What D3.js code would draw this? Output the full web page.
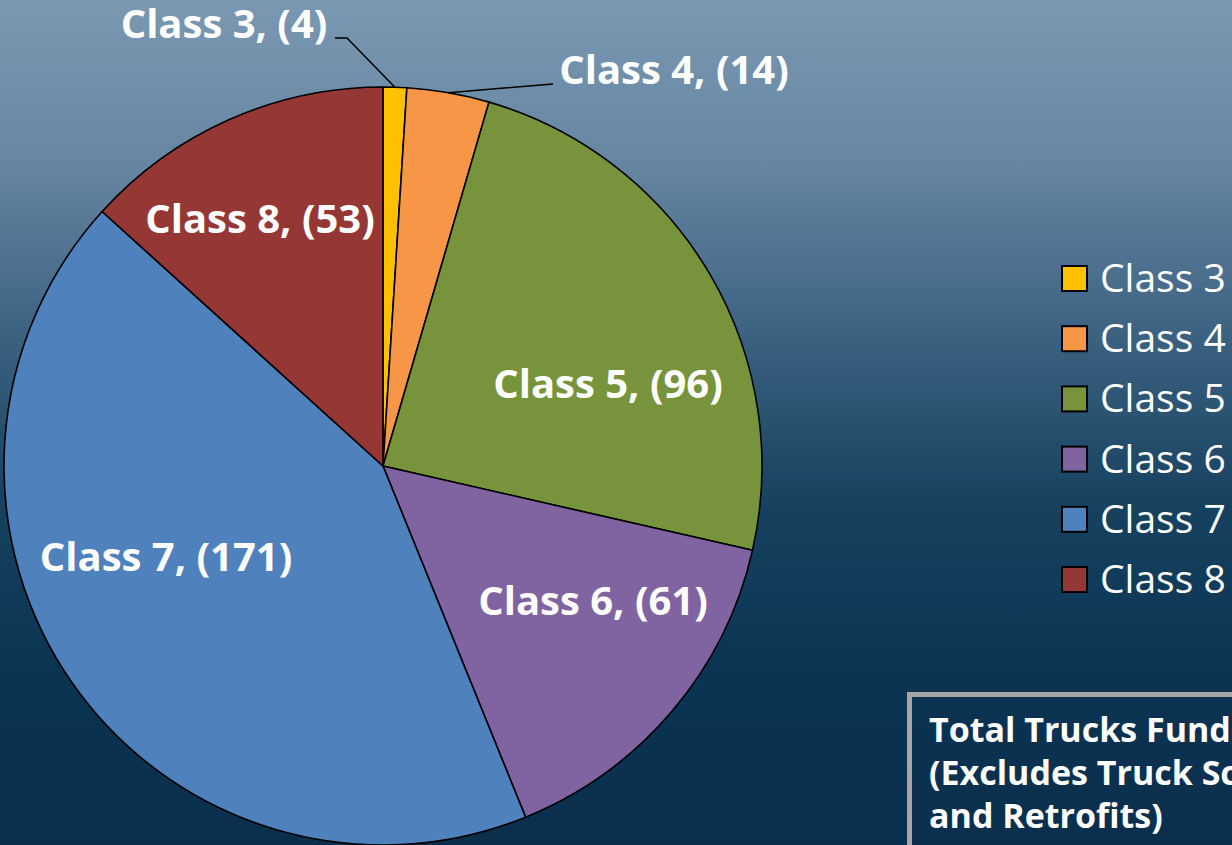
<!DOCTYPE html>
<html>
<head>
<meta charset="utf-8">
<script src="https://cdn.jsdelivr.net/npm/d3@7"></script>
<style>
  html, body { margin: 0; padding: 0; overflow: hidden; background: #0b2f4e; }
  svg { display: block; }
</style>
</head>
<body>
<svg id="chart" width="1232" height="845"></svg>
<script>
// ---- data ----
const categories = ["Class 3", "Class 4", "Class 5", "Class 6", "Class 7", "Class 8"];
const values = [4, 14, 96, 61, 171, 53];
const colors = ["#FFC000", "#F79646", "#77933C", "#8064A2", "#4F81BD", "#953735"];
const noteLines = ["Total Trucks Funded", "(Excludes Truck Scrap", "and Retrofits)"];

// ---- layout ----
const W = 1232, H = 845;
const cx = 383, cy = 466, R = 379;
// label anchors (text center x, baseline y)
const labelPos = [[224, 38], [674, 84], [608, 398], [593, 615], [166, 571], [260, 233]];

const svg = d3.select("#chart");
const defs = svg.append("defs");
const grad = defs.append("linearGradient").attr("id", "bg").attr("x1", 0).attr("y1", 0).attr("x2", 0).attr("y2", 1);
[[0, "#7a98b2"], [0.2, "#6585a1"], [0.4, "#3b6181"], [0.6, "#16415f"], [0.8, "#0b3453"], [1, "#0a2f4c"]]
  .forEach(([o, c]) => grad.append("stop").attr("offset", o).attr("stop-color", c));
svg.append("rect").attr("width", W).attr("height", H).attr("fill", "url(#bg)");

const pie = d3.pie().sort(null).value(d => d.value).startAngle(0).endAngle(2 * Math.PI);
const data = categories.map((c, i) => ({ name: c, value: values[i], color: colors[i] }));
const arcs = pie(data);
const arc = d3.arc().innerRadius(0).outerRadius(R);
const edgeArc = d3.arc().innerRadius(R).outerRadius(R);

const g = svg.append("g").attr("transform", `translate(${cx},${cy})`);
g.selectAll("path.slice").data(arcs).join("path")
  .attr("class", "slice")
  .attr("d", arc)
  .attr("fill", d => d.data.color)
  .attr("stroke", "#000")
  .attr("stroke-width", 1.6)
  .attr("stroke-linejoin", "round");

// leader lines for small slices
const leaders = [
  { i: 0, pts: [[335, 38], [347, 38]] },
  { i: 1, pts: [[553, 84]] }
];
leaders.forEach(l => {
  const [ex, ey] = edgeArc.centroid(arcs[l.i]);
  const pts = l.pts.concat([[cx + ex, cy + ey]]);
  svg.append("path")
    .attr("d", d3.line()(pts))
    .attr("fill", "none").attr("stroke", "#000").attr("stroke-width", 1.5);
});

// data labels
svg.selectAll("text.lbl").data(arcs).join("text")
  .attr("class", "lbl")
  .attr("x", (d, i) => labelPos[i][0])
  .attr("y", (d, i) => labelPos[i][1])
  .attr("text-anchor", "middle")
  .attr("fill", "#fff")
  .attr("font-family", "'Open Sans', sans-serif")
  .attr("font-weight", "bold")
  .attr("font-size", 40)
  .text(d => `${d.data.name}, (${d.data.value})`);

// legend
const lg = svg.append("g").attr("transform", "translate(1061,265)");
const item = lg.selectAll("g").data(data).join("g")
  .attr("transform", (d, i) => `translate(0,${i * 60.2})`);
item.append("rect").attr("x", 1).attr("y", 1).attr("width", 25).attr("height", 25)
  .attr("fill", d => d.color).attr("stroke", "#000").attr("stroke-width", 2);
item.append("text").attr("x", 39).attr("y", 27)
  .attr("fill", "#fff")
  .attr("font-family", "'Open Sans', sans-serif")
  .attr("font-size", 39)
  .text(d => d.name);

// note box
svg.append("rect").attr("x", 909.5).attr("y", 694.5).attr("width", 400).attr("height", 200)
  .attr("fill", "none").attr("stroke", "#a6a6a6").attr("stroke-width", 5);
svg.append("g").selectAll("text").data(noteLines).join("text")
  .attr("x", 929).attr("y", (d, i) => 742 + i * 43)
  .attr("fill", "#fff")
  .attr("font-family", "'Open Sans', sans-serif")
  .attr("font-weight", "bold")
  .attr("font-size", 34)
  .text(d => d);
</script>
</body>
</html>
